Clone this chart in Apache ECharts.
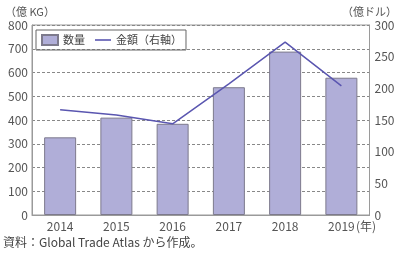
<!DOCTYPE html>
<html>
<head>
<meta charset="utf-8">
<script src="https://cdn.jsdelivr.net/npm/echarts@6/dist/echarts.min.js"></script>
<style>
html, body { margin: 0; padding: 0; background: #fff; }
#chart { width: 400px; height: 257px; }
</style>
</head>
<body>
<div id="chart"></div>
<script>
// 年
var years = ['2014', '2015', '2016', '2017', '2018', '2019']
// 数量（億KG）
var volume = [327, 410, 384, 538, 688, 578]
// 金額（億ドル、右軸）
var amount = [166, 158, 144, 207, 273, 204]
var leftTicks = [0, 800, 100]
var rightTicks = [0, 300, 50]

var font = '"Noto Sans CJK JP", "Noto Sans", sans-serif'
var chart = echarts.init(document.getElementById('chart'))

var option = {
  animation: false,
  textStyle: { fontFamily: font },
  grid: {
    left: 32, right: 28, top: 25, bottom: 42,
    show: true, borderColor: '#9a9a9a', borderWidth: 1
  },
  legend: {
    left: 36, top: 30,
    itemGap: 10,
    padding: [4, 4, 4, 5],
    borderColor: '#666', borderWidth: 1,
    itemWidth: 16, itemHeight: 10,
    textStyle: { fontSize: 11, color: '#444', fontFamily: font },
    data: [
      { name: '数量', icon: 'rect' },
      { name: '金額（右軸）', icon: 'path://M0,0 L10,0 L10,1 L0,1 Z', itemStyle: { color: '#5a56b0' } }
    ]
  },
  xAxis: {
    type: 'category',
    data: years,
    axisLine: { lineStyle: { color: '#9a9a9a' } },
    axisTick: { show: false },
    axisLabel: { color: '#555', fontSize: 12, margin: 5 }
  },
  yAxis: [{
    type: 'value',
    min: leftTicks[0], max: leftTicks[1], interval: leftTicks[2],
    name: '（億 KG）',
    nameGap: 8,
    nameTextStyle: { color: '#555', fontSize: 11, align: 'center', padding: [0, 0, 0, -4] },
    axisLine: { show: true, lineStyle: { color: '#9a9a9a' } },
    axisTick: { show: false },
    axisLabel: { color: '#555', fontSize: 12, margin: 4, showMinLabel: true },
    splitLine: { lineStyle: { color: '#888', type: [3, 2] } }
  }, {
    type: 'value',
    min: rightTicks[0], max: rightTicks[1], interval: rightTicks[2],
    name: '（億ドル）',
    nameGap: 8,
    nameTextStyle: { color: '#555', fontSize: 11, align: 'center', padding: [0, 0, 0, 0] },
    axisLine: { show: true, lineStyle: { color: '#9a9a9a' } },
    axisTick: { show: false },
    axisLabel: { color: '#555', fontSize: 12, margin: 5, showMinLabel: true },
    splitLine: { show: false }
  }],
  series: [{
    name: '数量',
    type: 'bar',
    data: volume,
    barWidth: 32,
    itemStyle: { color: '#b0aed8', borderColor: '#7d7a8c', borderWidth: 1 }
  }, {
    name: '金額（右軸）',
    type: 'line',
    yAxisIndex: 1,
    data: amount,
    symbol: 'none',
    lineStyle: { color: '#5a56b0', width: 1.5 },
    itemStyle: { color: '#5a56b0' }
  }],
  graphic: [{
    type: 'text', left: 356, top: 220,
    style: { text: '(年)', fill: '#555', font: '12px ' + font }
  }, {
    type: 'text', left: 3, top: 236,
    style: { text: '資料：Global Trade Atlas から作成。', fill: '#444', font: '12px ' + font }
  }]
}
chart.setOption(option)
</script>
</body>
</html>
